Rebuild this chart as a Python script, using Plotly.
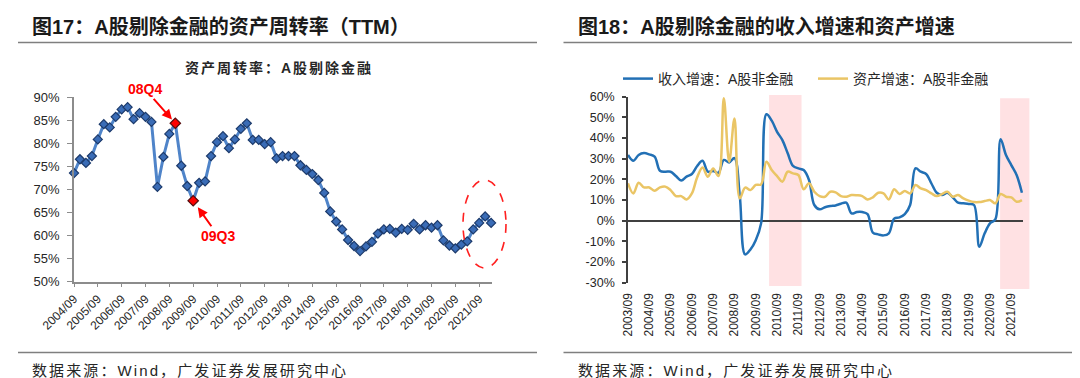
import plotly.graph_objects as go

# ---------------- data: 图17 资产周转率 (TTM) ----------------
MONTHS = ["03", "06", "09", "12"]
turnover_quarters = [f"{2004 + (2 + k) // 4}/{MONTHS[(2 + k) % 4]}" for k in range(71)]
turnover_pct = [73.5, 76.5, 75.7, 77.2, 80.8, 84.1, 83.4, 85.7, 87.3, 87.8,
                85.2, 86.5, 85.7, 84.6, 70.5, 77.0, 82.0, 84.3, 75.1, 70.7,
                67.5, 71.4, 71.7, 77.2, 80.2, 81.5, 78.9, 80.8, 83.1, 84.3,
                80.7, 80.7, 79.8, 80.2, 76.7, 77.2, 77.2, 77.2, 75.2, 74.2,
                73.3, 72.0, 69.2, 65.2, 63.0, 61.3, 59.0, 57.7, 56.6, 57.6,
                58.6, 60.4, 61.3, 61.4, 60.6, 61.4, 61.2, 62.5, 61.3, 62.2,
                61.7, 62.2, 58.9, 57.8, 57.2, 58.0, 58.7, 61.3, 62.7, 64.1, 62.7]
turnover_tick_labels = turnover_quarters[::4]
turnover_yticks = list(range(50, 91, 5))
highlight_quarters = ["2008/12", "2009/09"]
highlight_labels = ["08Q4", "09Q3"]

# ---------------- data: 图18 收入增速和资产增速 ----------------
growth_quarters = [f"{2003 + (2 + k) // 4}/{MONTHS[(2 + k) % 4]}" for k in range(75)]
revenue_growth_pct = [31.8, 29.0, 31.8, 32.7, 32.1, 31.0, 24.2, 23.7, 23.7, 21.6,
                      19.4, 21.3, 22.6, 26.5, 29.0, 23.7, 24.0, 23.2, 29.4, 28.2,
                      30.3, 12.0, -16.3, -13.9, -9.4, -1.3, 51.5, 48.4, 43.0, 39.0,
                      32.6, 26.5, 25.3, 24.5, 19.7, 7.6, 5.5, 6.5, 7.1, 7.4,
                      8.2, 8.7, 3.5, 4.2, 4.2, 3.2, -5.8, -6.6, -7.1, -6.1,
                      1.0, 1.6, 3.2, 7.6, 25.3, 23.7, 22.6, 18.0, 13.5, 12.4,
                      13.5, 11.3, 8.7, 8.4, 8.1, 7.6, -12.6, -6.1, -1.3, 0.6,
                      39.4, 31.8, 26.9, 22.1, 13.5]
asset_growth_pct = [18.1, 13.2, 18.4, 16.1, 16.1, 14.5, 16.1, 16.5, 14.8, 11.9,
                    11.9, 10.3, 13.2, 21.0, 25.8, 21.3, 25.3, 21.6, 59.2, 28.5,
                    49.5, 10.8, 16.0, 14.8, 17.3, 17.6, 28.5, 24.5, 21.6, 18.9,
                    23.7, 22.9, 22.1, 15.2, 18.1, 14.0, 11.9, 11.6, 14.0, 13.7,
                    11.9, 11.6, 12.4, 12.3, 11.9, 10.3, 11.3, 13.5, 13.2, 10.3,
                    15.2, 12.9, 14.4, 13.2, 17.3, 15.6, 14.8, 13.2, 11.9, 12.9,
                    14.0, 11.6, 12.4, 10.8, 9.7, 9.0, 9.0, 9.5, 10.0, 8.4,
                    12.9, 11.6, 11.3, 9.2, 10.0]
growth_tick_labels = growth_quarters[::4]
growth_yticks = list(range(-30, 61, 10))
shade_periods = [(26.5, 32.6), (69.9, 75.4)]   # quarter-index spans of the pink bands

# ---------------- layout helpers ----------------
W, H = 1080, 378
FONT = "Liberation Sans, Arial, Noto Sans CJK SC, sans-serif"
TXT = "#262626"


def fx(p):
    return p / W


def fy(p):
    return 1 - p / H


L_X = [fx(66), fx(484)]
L_Y = [fy(273.5), fy(89)]
L_XMAX = 70.15
R_X = [fx(620), fx(1015)]
R_Y = [fy(274.7), fy(88.7)]
R_XMAX = 74.2
R_YMIN, R_YMAX = -30, 60

fig = go.Figure()

# left chart
fig.add_trace(go.Scatter(
    x=turnover_quarters, y=turnover_pct, mode="lines+markers",
    line=dict(color="#4F84C9", width=3),
    marker=dict(symbol="diamond", size=7, color="#3A6CB6",
                line=dict(color="#1C3A6B", width=1.2)),
    cliponaxis=False, xaxis="x", yaxis="y", showlegend=False, hoverinfo="skip"))
hl_vals = [turnover_pct[turnover_quarters.index(q)] for q in highlight_quarters]
fig.add_trace(go.Scatter(
    x=highlight_quarters, y=hl_vals, mode="markers",
    marker=dict(symbol="diamond", size=8, color="#FF0000",
                line=dict(color="#5a1010", width=1.2)),
    cliponaxis=False, xaxis="x", yaxis="y", showlegend=False, hoverinfo="skip"))

# right chart
fig.add_trace(go.Scatter(
    x=growth_quarters, y=revenue_growth_pct, mode="lines",
    name="收入增速：A股非金融", legend="legend",
    line=dict(color="#2270B5", width=2.5, shape="spline", smoothing=1.0),
    xaxis="x2", yaxis="y2", hoverinfo="skip"))
fig.add_trace(go.Scatter(
    x=growth_quarters, y=asset_growth_pct, mode="lines",
    name="资产增速：A股非金融", legend="legend2",
    line=dict(color="#EAC565", width=2.5, shape="spline", smoothing=1.0),
    xaxis="x2", yaxis="y2", hoverinfo="skip"))

shapes = []
# pink highlight bands
for (a, b), (yb, yt) in zip(shade_periods, [(-31.6, 60.8), (-33.0, 59.2)]):
    shapes.append(dict(type="rect", xref="x2 domain", yref="y2 domain",
                       x0=a / R_XMAX, x1=b / R_XMAX,
                       y0=(yb - R_YMIN) / (R_YMAX - R_YMIN),
                       y1=(yt - R_YMIN) / (R_YMAX - R_YMIN),
                       fillcolor="#FFE1E3", line=dict(width=0), layer="below"))
# dashed ellipse around the recent quarters
shapes.append(dict(type="circle", xref="x domain", yref="y domain",
                   x0=0.9306, x1=1.0335, y0=0.0732, y1=0.550,
                   line=dict(color="#FF2020", width=1.6, dash="dash")))
# header / footer rules
for x0, x1 in [(10, 529), (555.5, 1067)]:
    for yy in (34.5, 344.5):
        shapes.append(dict(type="line", xref="paper", yref="paper",
                           x0=fx(x0), x1=fx(x1), y0=fy(yy), y1=fy(yy),
                           line=dict(color="#7F7F7F", width=1.5)))

SRC = '<span style="letter-spacing:2.1px">数据来源：Wind，广发证券发展研究中心</span>'
annotations = [
    dict(text="<b>图17：A股剔除金融的资产周转率（TTM）</b>", x=fx(22), y=fy(18),
         xanchor="left", yanchor="middle", font=dict(size=20, color="#1a1a1a")),
    dict(text="<b>图18：A股剔除金融的收入增速和资产增速</b>", x=fx(568), y=fy(18),
         xanchor="left", yanchor="middle", font=dict(size=20, color="#1a1a1a")),
    dict(text=SRC, x=fx(22), y=fy(362), xanchor="left", yanchor="middle",
         font=dict(size=15, color=TXT)),
    dict(text=SRC, x=fx(568), y=fy(362), xanchor="left", yanchor="middle",
         font=dict(size=15, color=TXT)),
    dict(text='<b><span style="letter-spacing:2px">资产周转率：A股剔除金融</span></b>',
         x=fx(271), y=fy(60), xanchor="center", yanchor="middle",
         font=dict(size=14, color=TXT)),
]
for q, v, lab, (axo, ayo, so) in zip(highlight_quarters, hl_vals, highlight_labels,
                                     [(-30, -34, 5), (25, 35, 8)]):
    annotations.append(dict(
        x=q, y=v, xref="x", yref="y", text=f"<b>{lab}</b>", showarrow=True,
        ax=axo, ay=ayo, arrowhead=2, arrowsize=1, arrowwidth=2, arrowcolor="#FF0000",
        standoff=so, font=dict(size=14, color="#FF0000")))
for a in annotations:
    a.setdefault("xref", "paper")
    a.setdefault("yref", "paper")
    a.setdefault("showarrow", False)

fig.update_layout(
    width=W, height=H, autosize=False,
    margin=dict(l=0, r=0, t=0, b=0, pad=0, autoexpand=False),
    paper_bgcolor="white", plot_bgcolor="white",
    font=dict(family=FONT, color=TXT),
    shapes=shapes, annotations=annotations,
    xaxis=dict(domain=L_X, anchor="y", type="category", range=[0, L_XMAX],
               showline=True, linecolor="#8C8C8C", linewidth=1.5,
               ticks="outside", ticklen=4, tickcolor="#8C8C8C", tickwidth=1,
               tickvals=turnover_tick_labels, tickangle=-45, automargin=False,
               tickfont=dict(size=12, color=TXT), showgrid=False, zeroline=False),
    yaxis=dict(domain=L_Y, anchor="x", range=[50, 90], automargin=False,
               tickvals=turnover_yticks, ticktext=[f"{v}%" for v in turnover_yticks],
               showline=True, linecolor="#8C8C8C", linewidth=1.5,
               ticks="outside", ticklen=5, tickcolor="#8C8C8C",
               tickfont=dict(size=13, color=TXT), showgrid=False, zeroline=False,
               ticklabelstandoff=5),
    xaxis2=dict(domain=R_X, anchor="y2", type="category", range=[0, R_XMAX],
                showline=False, ticks="", tickvals=growth_tick_labels, tickangle=-90,
                tickfont=dict(size=12, color=TXT), showgrid=False, zeroline=False,
                ticklabelstandoff=7, automargin=False),
    yaxis2=dict(domain=R_Y, anchor="x2", range=[R_YMIN, R_YMAX], automargin=False,
                tickvals=growth_yticks, ticktext=[f"{v}%" for v in growth_yticks],
                showline=True, linecolor="#404040", linewidth=1.5,
                ticks="outside", ticklen=4, tickcolor="#404040", tickwidth=1.5,
                tickfont=dict(size=12.5, color=TXT), showgrid=False,
                zeroline=True, zerolinecolor="#404040", zerolinewidth=1.5,
                ticklabelstandoff=5),
    xaxis3=dict(overlaying="x2", anchor="free", automargin=False,
                position=R_Y[0] + (0 - R_YMIN) / (R_YMAX - R_YMIN) * (R_Y[1] - R_Y[0]),
                type="linear", range=[0, R_XMAX], tickvals=list(range(4, 73, 4)),
                ticks="outside", ticklen=4, tickwidth=1.5, tickcolor="#404040",
                showticklabels=False, showline=False, showgrid=False, zeroline=False),
    legend=dict(x=fx(610), y=fy(71), xanchor="left", yanchor="middle",
                orientation="h", font=dict(size=14, color=TXT),
                bgcolor="rgba(0,0,0,0)", itemwidth=30),
    legend2=dict(x=fx(805), y=fy(71), xanchor="left", yanchor="middle",
                 orientation="h", font=dict(size=14, color=TXT),
                 bgcolor="rgba(0,0,0,0)", itemwidth=30),
)

fig.write_html("out.html")
